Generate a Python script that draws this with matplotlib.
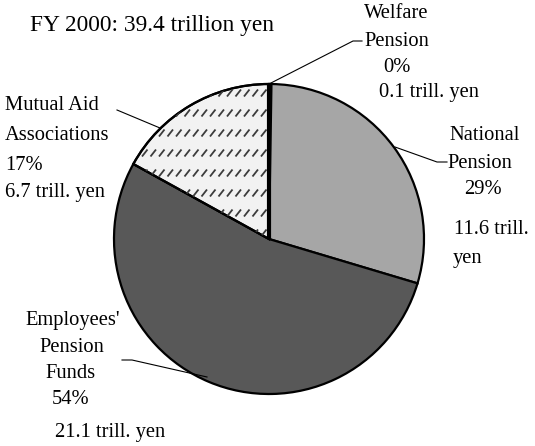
import matplotlib
matplotlib.use("Agg")
import matplotlib.pyplot as plt
from matplotlib.patches import Wedge
import numpy as np

# ---- data ----
categories = ["Welfare Pension", "National Pension", "Employees' Pension Funds", "Mutual Aid Associations"]
values = [0.1, 11.6, 21.1, 6.7]          # trillion yen
percents = ["0%", "29%", "54%", "17%"]
amounts = ["0.1 trill. yen", "11.6 trill. yen", "21.1 trill. yen", "6.7 trill. yen"]
title = "FY 2000: 39.4 trillion yen"

W, H = 535, 446
plt.rcParams['font.family'] = ['Liberation Serif', 'DejaVu Serif']

fig = plt.figure(figsize=(W / 100, H / 100), dpi=100)
ax = fig.add_axes([0, 0, 1, 1])

def Y(yp):
    return H - yp

cx, cy, R = 269, Y(239), 155
colors = ["#000000", "#a6a6a6", "#585858", "#f2f2f2"]
wedges, _ = ax.pie(values, startangle=90, counterclock=False, colors=colors,
                   center=(cx, cy), radius=R,
                   wedgeprops=dict(edgecolor="black", linewidth=1.6))
ax.set_xlim(0, W)
ax.set_ylim(0, H)
ax.set_aspect("equal")
ax.axis("off")

# dash pattern on Mutual Aid slice
mw = wedges[3]
for yy in np.arange(73, 250, 20):
    for xx in np.arange(108, 280, 8.5):
        ln, = ax.plot([xx, xx + 5.5], [Y(yy + 3.5), Y(yy - 3.5)], color="#3c3c3c",
                      lw=1.3, solid_capstyle="butt")
        ln.set_clip_path(mw)
# redraw mutual wedge edge on top
ax.add_patch(Wedge(mw.center, mw.r, mw.theta1, mw.theta2,
                   fill=False, edgecolor="black", linewidth=1.6))
ax.plot([cx, cx], [cy, cy + R], color="black", lw=3.0, solid_capstyle="butt")

fs = 14.8
def T(x, y, s, ha="left"):
    ax.text(x, Y(y), s, ha=ha, va="center", fontsize=fs, color="black")

ax.text(30, Y(25), title, ha="left", va="center", fontsize=16.8)

# Welfare Pension
T(364, 14, "Welfare"); T(364, 41, "Pension"); T(383, 68, percents[0]); T(379, 93, amounts[0])
ax.plot([269, 353, 362], [Y(84), Y(41), Y(41)], color="black", lw=0.8)

# National Pension
T(485, 135, "National", "center"); T(480, 163, "Pension", "center"); T(483, 190, percents[1], "center")
T(454, 230, "11.6 trill."); T(453, 258, "yen")
ax.plot([395, 437, 447], [Y(147), Y(162), Y(162)], color="black", lw=0.8)

# Employees' Pension Funds
T(73, 321, "Employees'", "center"); T(72, 347, "Pension", "center"); T(71, 373, "Funds", "center")
T(71, 400, percents[2], "center"); T(55, 432, amounts[2])
ax.plot([207, 132, 122], [Y(377), Y(360), Y(360)], color="black", lw=0.8)

# Mutual Aid Associations
T(5, 105, "Mutual Aid"); T(5, 135, "Associations"); T(5, 165, percents[3]); T(5, 193, amounts[3])
ax.plot([117, 160], [Y(110), Y(128)], color="black", lw=0.8)

fig.savefig("out.png", dpi=100)
